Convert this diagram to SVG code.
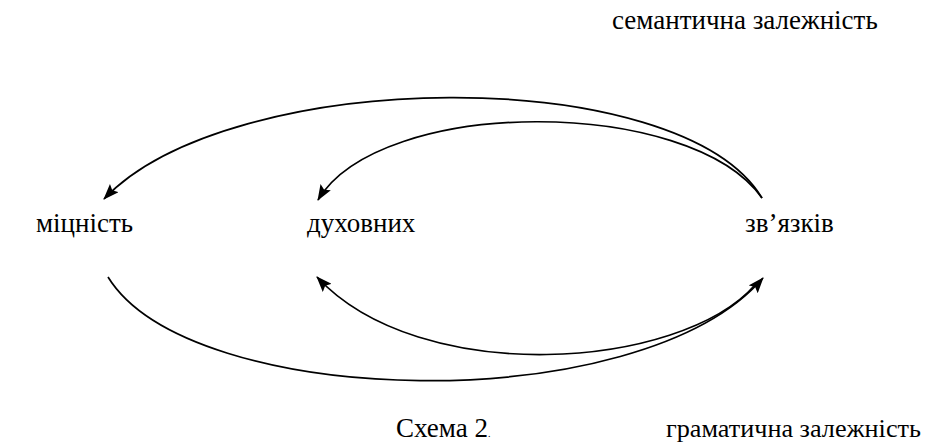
<svg xmlns="http://www.w3.org/2000/svg" width="928" height="443" viewBox="0 0 928 443">
  <style>
    text { font-family: "Liberation Serif", "DejaVu Serif", "Times New Roman", serif; font-size: 27px; fill: #000; }
    .link { fill: none; stroke: #000; stroke-width: 1.7; }
  </style>
  <defs>
    <marker id="arrow" viewBox="0 0 16 12" refX="15" refY="6" markerWidth="16" markerHeight="12" markerUnits="userSpaceOnUse" orient="auto">
      <path d="M0,0 L16,6 L0,12 L3,6 Z" fill="#000"/>
    </marker>
  </defs>
  <rect width="928" height="443" fill="#fff"/>

  <text x="612" y="29">семантична залежність</text>

  <g id="node-mitsnist"><text x="36" y="232">міцність</text></g>
  <g id="node-dukhovnykh"><text x="307" y="232">духовних</text></g>
  <g id="node-zviazkiv"><text x="745" y="232">зв’язків</text></g>

  <g id="connectors">
    <path class="link" d="M762,198 C680,62 230,66 104,199" marker-end="url(#arrow)"/>
    <path class="link" d="M762,198 C690,96 380,96 318,200" marker-end="url(#arrow)"/>
    <path class="link" d="M755,285 C680,370 420,388 317,277" marker-end="url(#arrow)"/>
    <path class="link" d="M108,277 C190,410 640,420 763,278" marker-end="url(#arrow)"/>
  </g>

  <text x="396" y="437">Схема 2<tspan font-size="10px">.</tspan></text>
  <text x="666" y="437" style="font-size:26.2px">граматична залежність</text>
</svg>
